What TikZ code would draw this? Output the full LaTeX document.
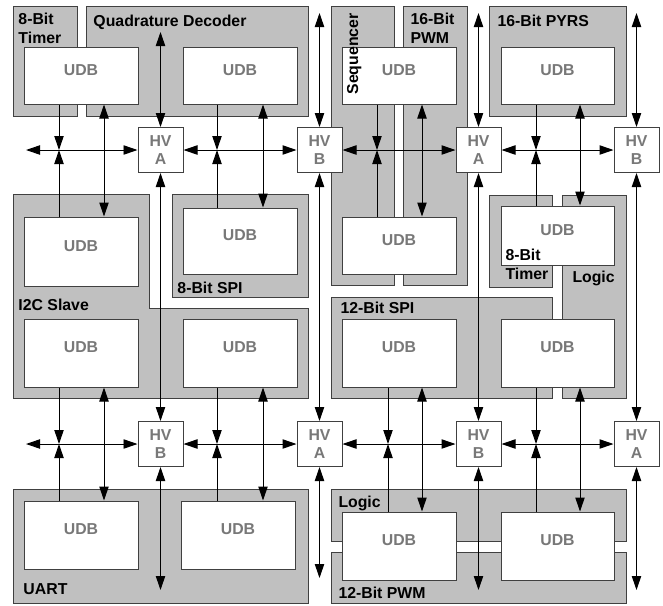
\documentclass[tikz,border=0pt]{standalone}
\usepackage{fontspec}
\setmainfont{Liberation Sans}
\usepackage{tikz}
\usetikzlibrary{arrows.meta,fit}

\definecolor{boxgray}{RGB}{192,192,192}
\definecolor{edgegray}{RGB}{64,64,64}
\definecolor{udbtext}{RGB}{120,120,120}

\begin{document}
\begin{tikzpicture}[x=0.03cm,y=-0.03cm,line width=0.85pt,>={Triangle[length=0.42cm,width=0.28cm]}]
            \tikzstyle{every node}+=[inner sep=0pt,font=\fontsize{13.5}{15.5}\selectfont\bfseries]
            \tikzstyle{blockbox}=[draw=edgegray,fill=boxgray]
            \tikzstyle{udb}=[draw=edgegray,fill=white,text=udbtext]
            \tikzstyle{hv}=[draw=edgegray,fill=white,text=udbtext,minimum size=1.35cm,align=center]
            \tikzstyle{grouplabel}=[anchor=north west,align=left]
            \useasboundingbox (0,0) rectangle (663,605);
            \draw [blockbox] (13,6) rectangle (77,116);
            \draw [blockbox] (86,6) rectangle (308,116);
            \draw [blockbox] (331,6) rectangle (394,285);
            \draw [blockbox] (403,6) rectangle (467,285);
            \draw [blockbox] (489,6) rectangle (626,116);
            \draw [blockbox] (13,194) -- (149,194) -- (149,308) -- (308,308) -- (308,398) -- (13,398) -- cycle;
            \draw [blockbox] (172,194) rectangle (308,297);
            \draw [blockbox] (489,195) rectangle (552,287);
            \draw [blockbox] (562,195) rectangle (626,398);
            \draw [blockbox] (331,297) rectangle (552,398);
            \draw [blockbox] (13,489) rectangle (308,603);
            \draw [blockbox] (331,489) rectangle (626,541);
            \draw [blockbox] (331,552) rectangle (626,603);
            \node [udb,fit={(24,47) (138,104)}] (u1) {UDB};
            \node [udb,fit={(183,47) (297,104)}] (u2) {UDB};
            \node [udb,fit={(342,47) (456,104)}] (u3) {UDB};
            \node [udb,fit={(501,47) (614,104)}] (u4) {UDB};
            \node [udb,fit={(24,217) (138,286)}] (u5) {UDB};
            \node [udb,fit={(183,208) (297,274)}] (u6) {UDB};
            \node [udb,fit={(342,217) (456,274)}] (u7) {UDB};
            \node [udb,fit={(501,206) (614,265)}] (u8) {UDB};
            \node [udb,fit={(24,319) (138,387)}] (u9) {UDB};
            \node [udb,fit={(183,319) (297,387)}] (u10) {UDB};
            \node [udb,fit={(342,319) (456,387)}] (u11) {UDB};
            \node [udb,fit={(501,319) (614,387)}] (u12) {UDB};
            \node [udb,fit={(24,501) (138,569)}] (u13) {UDB};
            \node [udb,fit={(181,501) (295,569)}] (u14) {UDB};
            \node [udb,fit={(342,512) (456,580)}] (u15) {UDB};
            \node [udb,fit={(501,512) (614,580)}] (u16) {UDB};
            \node [hv] (h11) at (160.5,150) {HV\\A};
            \node [hv] (h12) at (319.5,150) {HV\\B};
            \node [hv] (h13) at (478.5,150) {HV\\A};
            \node [hv] (h14) at (636.5,150) {HV\\B};
            \node [hv] (h21) at (160.5,444) {HV\\B};
            \node [hv] (h22) at (319.5,444) {HV\\A};
            \node [hv] (h23) at (478.5,444) {HV\\B};
            \node [hv] (h24) at (636.5,444) {HV\\A};
            \node [grouplabel] (timera) at (18,13) {8-Bit\\Timer};
            \node [grouplabel] (quad) at (93,15) {Quadrature Decoder};
            \node [rotate=90,anchor=base east] (seq) at (358,13) {Sequencer};
            \node [grouplabel] (pwma) at (410,13) {16-Bit\\PWM};
            \node [grouplabel] (pyrs) at (497,15) {16-Bit PYRS};
            \node [grouplabel] (i2c) at (18,299) {I2C Slave};
            \node [grouplabel] (spia) at (177,282) {8-Bit SPI};
            \node [grouplabel] (timerb) at (505,249) {8-Bit\\Timer};
            \node [grouplabel] (logica) at (572,271) {Logic};
            \node [grouplabel] (spib) at (340,302) {12-Bit SPI};
            \node [grouplabel] (uart) at (23,583) {UART};
            \node [grouplabel] (logicb) at (338,496) {Logic};
            \node [grouplabel] (pwmb) at (338,587) {12-Bit PWM};
            \coordinate (b1) at (26,150);
            \coordinate (b2) at (26,444);
            \coordinate (t1) at (160.5,32);
            \coordinate (t2) at (319.5,13);
            \coordinate (t3) at (478.5,13);
            \coordinate (t4) at (636.5,13);
            \coordinate (d1) at (160.5,590);
            \coordinate (d2) at (319.5,578);
            \coordinate (d3) at (478.5,590);
            \coordinate (d4) at (636.5,590);
            \coordinate (j1) at (59,150);
            \coordinate (j2) at (217,150);
            \coordinate (j3) at (377,150);
            \coordinate (j4) at (536,150);
            \coordinate (j5) at (59,444);
            \coordinate (j6) at (217,444);
            \coordinate (j7) at (388,444);
            \coordinate (j8) at (536,444);
            \coordinate (k1) at (104,0);
            \coordinate (k2) at (263,0);
            \coordinate (k3) at (422,0);
            \coordinate (k4) at (580,0);
            \draw [<->] (b1) -- (h11);
            \draw [<->] (h11) -- (h12);
            \draw [<->] (h12) -- (h13);
            \draw [<->] (h13) -- (h14);
            \draw [<->] (b2) -- (h21);
            \draw [<->] (h21) -- (h22);
            \draw [<->] (h22) -- (h23);
            \draw [<->] (h23) -- (h24);
            \draw [<->] (t1) -- (h11);
            \draw [<->] (t2) -- (h12);
            \draw [<->] (t3) -- (h13);
            \draw [<->] (t4) -- (h14);
            \draw [<->] (h11) -- (h21);
            \draw [<->] (h12) -- (h22);
            \draw [<->] (h13) -- (h23);
            \draw [<->] (h14) -- (h24);
            \draw [<->] (h21) -- (d1);
            \draw [<->] (h22) -- (d2);
            \draw [<->] (h23) -- (d3);
            \draw [<->] (h24) -- (d4);
            \draw [->] (u1.south -| j1) -- (j1);
            \draw [->] (u5.north -| j1) -- (j1);
            \draw [<->] (u1.south -| k1) -- (u5.north -| k1);
            \draw [->] (u2.south -| j2) -- (j2);
            \draw [->] (u6.north -| j2) -- (j2);
            \draw [<->] (u2.south -| k2) -- (u6.north -| k2);
            \draw [->] (u3.south -| j3) -- (j3);
            \draw [->] (u7.north -| j3) -- (j3);
            \draw [<->] (u3.south -| k3) -- (u7.north -| k3);
            \draw [->] (u4.south -| j4) -- (j4);
            \draw [->] (u8.north -| j4) -- (j4);
            \draw [<->] (u4.south -| k4) -- (u8.north -| k4);
            \draw [->] (u9.south -| j5) -- (j5);
            \draw [->] (u13.north -| j5) -- (j5);
            \draw [<->] (u9.south -| k1) -- (u13.north -| k1);
            \draw [->] (u10.south -| j6) -- (j6);
            \draw [->] (u14.north -| j6) -- (j6);
            \draw [<->] (u10.south -| k2) -- (u14.north -| k2);
            \draw [->] (u11.south -| j7) -- (j7);
            \draw [->] (u15.north -| j7) -- (j7);
            \draw [<->] (u11.south -| k3) -- (u15.north -| k3);
            \draw [->] (u12.south -| j8) -- (j8);
            \draw [->] (u16.north -| j8) -- (j8);
            \draw [<->] (u12.south -| k4) -- (u16.north -| k4);
\end{tikzpicture}
\end{document}
